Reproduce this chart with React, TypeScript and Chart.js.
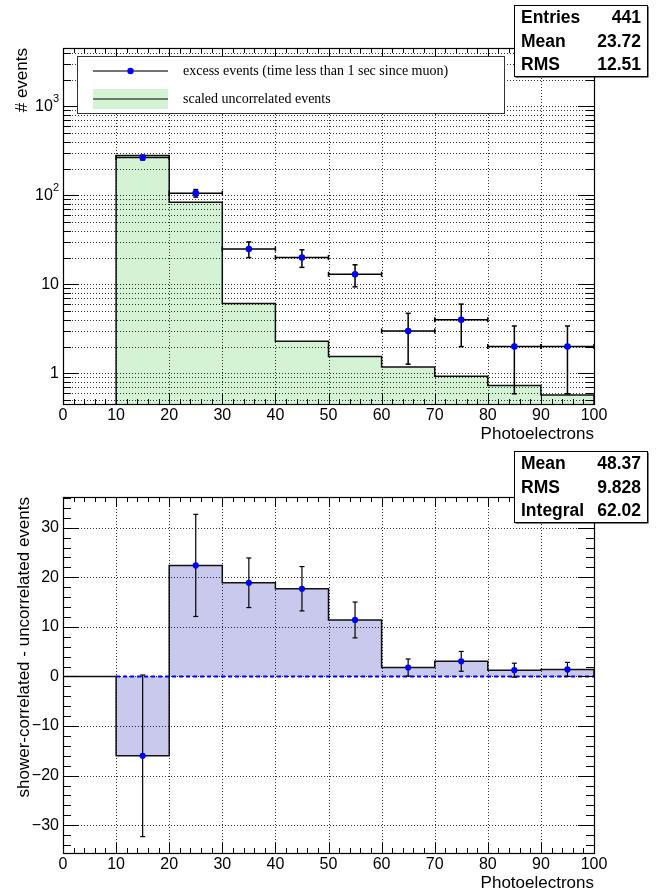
import React, { useEffect, useRef } from "react";
import { Chart, registerables } from "chart.js";

Chart.register(...registerables);

// Photoelectron binning: 10 PE wide bins from 0 to 100
const binEdges = [0, 10, 20, 30, 40, 50, 60, 70, 80, 90, 100];
const binCenters = [15, 25, 35, 45, 55, 65, 75, 85, 95];

// Upper panel: excess events (time < 1 s since muon) with statistical errors
const excessCounts = [266, 106, 25, 20, 13, 3, 4, 2, 2];
const excessErrors = [16.3, 10.3, 5.0, 4.47, 3.61, 1.73, 2.0, 1.41, 1.41];
// Upper panel: scaled uncorrelated events, bins 10..100
const uncorrelatedScaled = [281, 84, 6.1, 2.3, 1.55, 1.18, 0.93, 0.73, 0.57];

// Lower panel: shower-correlated minus uncorrelated, bins 0..100
const differenceValues = [0, -16.0, 22.4, 18.9, 17.7, 11.4, 1.8, 3.05, 1.27, 1.43];
const differenceErrors = [16.3, 10.3, 5.0, 4.47, 3.61, 1.73, 2.0, 1.41, 1.41];

// Axis ranges and tick labels
const TOP_Y_MIN = 0.453;
const TOP_Y_MAX = 4530;
const BOTTOM_Y_MIN = -35.6;
const BOTTOM_Y_MAX = 36.2;
const xTickValues = [0, 10, 20, 30, 40, 50, 60, 70, 80, 90, 100];
const xTickLabels = ["0", "10", "20", "30", "40", "50", "60", "70", "80", "90", "100"];
const logTickValues = [1, 10, 100, 1000];
const logTickBases = ["1", "10", "10", "10"];
const logTickExponents = ["", "", "2", "3"];
const linTickValues = [-30, -20, -10, 0, 10, 20, 30];
const linTickLabels = ["\u221230", "\u221220", "\u221210", "0", "10", "20", "30"];

// Statistics boxes
const topStatNames = ["Entries", "Mean", "RMS"];
const topStatValues = ["441", "23.72", "12.51"];
const bottomStatNames = ["Mean", "RMS", "Integral"];
const bottomStatValues = ["48.37", "9.828", "62.02"];

const legendLabels = [
  "excess events (time less than 1 sec since muon)",
  "scaled uncorrelated events",
];

const xTitle = "Photoelectrons";
const topYTitle = "# events";
const bottomYTitle = "shower-correlated - uncorrelated events";

const GREEN_FILL = "rgb(212,243,212)";
const LAVENDER_FILL = "rgb(200,201,237)";
const MARKER_BLUE = "#0000ff";
const SANS = '"Liberation Sans", Arial, Helvetica, sans-serif';
const SERIF = '"Liberation Serif", "Times New Roman", serif';

const W = 665;
const H = 446;

type Pt = { x: number; y: number };

// Outline points of a histogram for a stepped ('before') line
function stepPoints(edges: number[], values: number[], base: number): Pt[] {
  const pts: Pt[] = [{ x: edges[0], y: base }];
  values.forEach((v, i) => pts.push({ x: edges[i], y: v }));
  pts.push({ x: edges[edges.length - 1], y: values[values.length - 1] });
  pts.push({ x: edges[edges.length - 1], y: base });
  return pts;
}

interface PanelSpec {
  id: string;
  logY: boolean;
  histIndex: number;
  pointsIndex: number;
  errY: number[];
  errXHalf: number;
  errWidth: number;
  yTitle: string;
  yTitleX: number;
  statNames: string[];
  statValues: string[];
  legend: boolean;
}

function line(ctx: CanvasRenderingContext2D, x1: number, y1: number, x2: number, y2: number) {
  ctx.beginPath();
  ctx.moveTo(x1, y1);
  ctx.lineTo(x2, y2);
  ctx.stroke();
}

function yTickList(spec: PanelSpec, min: number, max: number) {
  const out: { v: number; major: boolean }[] = [];
  if (spec.logY) {
    for (let d = 0.1; d <= 10000; d *= 10) {
      for (let k = 1; k <= 9; k++) {
        const v = Math.round(k * d * 1000) / 1000;
        if (v >= min && v <= max) out.push({ v, major: k === 1 });
      }
    }
  } else {
    for (let v = -40; v <= 40; v += 2) {
      if (v >= min && v <= max) out.push({ v, major: v % 10 === 0 });
    }
  }
  return out;
}

function drawGrid(chart: Chart, spec: PanelSpec) {
  const { ctx, chartArea: a } = chart;
  const xs = chart.scales.x;
  const ys = chart.scales.y;
  ctx.save();
  ctx.strokeStyle = "rgba(0,0,0,0.8)";
  ctx.lineWidth = 1;
  ctx.setLineDash([1, 2]);
  xTickValues.forEach((v) => {
    if (v <= xs.min || v >= xs.max) return;
    const px = Math.round(xs.getPixelForValue(v)) + 0.5;
    line(ctx, px, a.top, px, a.bottom);
  });
  const yVals = spec.logY
    ? yTickList(spec, ys.min, ys.max).map((t) => t.v)
    : linTickValues;
  yVals.forEach((v) => {
    const py = Math.round(ys.getPixelForValue(v)) + 0.5;
    if (py <= a.top + 1 || py >= a.bottom - 1) return;
    line(ctx, a.left, py, a.right, py);
  });
  ctx.restore();
}

function drawErrors(chart: Chart, spec: PanelSpec) {
  const { ctx, chartArea: a } = chart;
  const xs = chart.scales.x;
  const ys = chart.scales.y;
  const pts = chart.data.datasets[spec.pointsIndex].data as Pt[];
  const cap = 2.5;
  ctx.save();
  ctx.beginPath();
  ctx.rect(a.left, a.top, a.right - a.left, a.bottom - a.top);
  ctx.clip();
  ctx.strokeStyle = "#000";
  ctx.lineWidth = spec.errWidth;
  pts.forEach((p, i) => {
    const e = spec.errY[i];
    const px = xs.getPixelForValue(p.x);
    const py = ys.getPixelForValue(p.y);
    const pTop = ys.getPixelForValue(p.y + e);
    const low = p.y - e;
    const lowVisible = !(spec.logY && low <= ys.min);
    const pBot = lowVisible ? ys.getPixelForValue(low) : a.bottom;
    line(ctx, px, pTop, px, pBot);
    line(ctx, px - cap, pTop, px + cap, pTop);
    if (lowVisible) line(ctx, px - cap, pBot, px + cap, pBot);
    if (spec.errXHalf > 0) {
      const xl = xs.getPixelForValue(p.x - spec.errXHalf);
      const xr = xs.getPixelForValue(p.x + spec.errXHalf);
      line(ctx, xl, py, xr, py);
      line(ctx, xl, py - cap, xl, py + cap);
      line(ctx, xr, py - cap, xr, py + cap);
    }
  });
  ctx.restore();
}

function drawAxes(chart: Chart, spec: PanelSpec) {
  const { ctx, chartArea: a } = chart;
  const xs = chart.scales.x;
  const ys = chart.scales.y;
  ctx.save();
  ctx.strokeStyle = "#000";
  ctx.lineWidth = 1;

  // x ticks on bottom and top edges
  for (let v = 0; v <= 100; v += 2) {
    const major = v % 10 === 0;
    const len = major ? 10 : 5;
    const px = Math.round(xs.getPixelForValue(v)) + 0.5;
    line(ctx, px, a.bottom, px, a.bottom - len);
    line(ctx, px, a.top, px, a.top + len);
  }
  // y ticks on left and right edges
  yTickList(spec, ys.min, ys.max).forEach((t) => {
    const len = t.major ? 16 : 8;
    const py = Math.round(ys.getPixelForValue(t.v)) + 0.5;
    line(ctx, a.left, py, a.left + len, py);
    line(ctx, a.right, py, a.right - len, py);
  });

  // frame
  ctx.lineWidth = 1.2;
  ctx.strokeRect(a.left + 0.5, a.top + 0.5, a.right - a.left, a.bottom - a.top);

  // x tick labels and title
  ctx.fillStyle = "#000";
  ctx.font = `16px ${SANS}`;
  ctx.textAlign = "center";
  ctx.textBaseline = "middle";
  xTickValues.forEach((v, i) => {
    ctx.fillText(xTickLabels[i], xs.getPixelForValue(v), a.bottom + 12);
  });
  ctx.font = `17px ${SANS}`;
  ctx.textAlign = "right";
  ctx.fillText(xTitle, a.right, a.bottom + 30);

  // y tick labels
  const labelRight = a.left - 4;
  if (spec.logY) {
    logTickValues.forEach((v, i) => {
      const py = ys.getPixelForValue(v);
      const exp = logTickExponents[i];
      ctx.font = `11px ${SANS}`;
      const expW = exp ? ctx.measureText(exp).width : 0;
      ctx.font = `16px ${SANS}`;
      ctx.textAlign = "right";
      ctx.fillText(logTickBases[i], labelRight - expW, py);
      if (exp) {
        ctx.font = `11px ${SANS}`;
        ctx.textAlign = "left";
        ctx.fillText(exp, labelRight - expW, py - 7);
      }
    });
  } else {
    ctx.font = `16px ${SANS}`;
    ctx.textAlign = "right";
    linTickValues.forEach((v, i) => {
      ctx.fillText(linTickLabels[i], labelRight, ys.getPixelForValue(v));
    });
  }

  // y title, rotated, ending at the top of the frame
  ctx.save();
  ctx.translate(spec.yTitleX, a.top);
  ctx.rotate(-Math.PI / 2);
  ctx.font = `17px ${SANS}`;
  ctx.textAlign = "right";
  ctx.textBaseline = "middle";
  ctx.fillText(spec.yTitle, 0, 0);
  ctx.restore();

  ctx.restore();
}

function drawLegend(chart: Chart) {
  const { ctx } = chart;
  const L = 77, T = 56, R = 504, B = 113;
  ctx.save();
  ctx.fillStyle = "#fff";
  ctx.fillRect(L, T, R - L, B - T);
  ctx.strokeStyle = "#333";
  ctx.lineWidth = 1;
  ctx.strokeRect(L + 0.5, T + 0.5, R - L, B - T);

  const symL = 93, symR = 168;
  const y1 = 71, y2 = 99;
  // entry 1: marker with error line
  ctx.strokeStyle = "#444";
  ctx.lineWidth = 1.5;
  line(ctx, symL, y1, symR, y1);
  ctx.fillStyle = MARKER_BLUE;
  ctx.beginPath();
  ctx.arc((symL + symR) / 2, y1, 3.2, 0, Math.PI * 2);
  ctx.fill();
  // entry 2: filled box with outline
  ctx.fillStyle = GREEN_FILL;
  ctx.fillRect(symL, y2 - 10, symR - symL, 20);
  ctx.strokeStyle = "#000";
  ctx.lineWidth = 1.2;
  line(ctx, symL, y2, symR, y2);

  ctx.fillStyle = "#000";
  ctx.font = `14px ${SERIF}`;
  ctx.textAlign = "left";
  ctx.textBaseline = "middle";
  ctx.fillText(legendLabels[0], 183, y1);
  ctx.fillText(legendLabels[1], 183, y2);
  ctx.restore();
}

function drawStats(chart: Chart, names: string[], values: string[]) {
  const { ctx } = chart;
  const L = 514, T = 5, R = 647, B = 76;
  ctx.save();
  ctx.fillStyle = "#000";
  ctx.fillRect(L + 1.5, T + 1.5, R - L, B - T);
  ctx.fillStyle = "#fff";
  ctx.fillRect(L, T, R - L, B - T);
  ctx.strokeStyle = "#000";
  ctx.lineWidth = 1;
  ctx.strokeRect(L + 0.5, T + 0.5, R - L, B - T);
  ctx.fillStyle = "#000";
  ctx.font = `bold 17.5px ${SANS}`;
  ctx.textBaseline = "middle";
  names.forEach((n, i) => {
    const y = T + 13.5 + i * 23.4;
    ctx.textAlign = "left";
    ctx.fillText(n, L + 7, y);
    ctx.textAlign = "right";
    ctx.fillText(values[i], R - 6, y);
  });
  ctx.restore();
}

function makePanelPlugin(spec: PanelSpec) {
  return {
    id: spec.id,
    afterDatasetDraw(chart: Chart, args: { index: number }) {
      if (args.index === spec.histIndex) drawGrid(chart, spec);
    },
    beforeDatasetDraw(chart: Chart, args: { index: number }) {
      if (args.index === spec.pointsIndex) drawErrors(chart, spec);
    },
    afterDraw(chart: Chart) {
      drawAxes(chart, spec);
      if (spec.legend) drawLegend(chart);
      drawStats(chart, spec.statNames, spec.statValues);
    },
  };
}

function baseOptions(padTop: number, padBottom: number, yScale: any) {
  return {
    animation: false as const,
    responsive: false,
    devicePixelRatio: 1,
    events: [],
    layout: { padding: { left: 63, right: W - 594, top: padTop, bottom: padBottom } },
    scales: {
      x: { type: "linear" as const, min: 0, max: 100, display: false },
      y: { ...yScale, display: false },
    },
    plugins: { legend: { display: false }, tooltip: { enabled: false } },
  };
}

function TopPanel() {
  const ref = useRef<HTMLCanvasElement>(null);
  useEffect(() => {
    if (!ref.current) return;
    const spec: PanelSpec = {
      id: "topPanel",
      logY: true,
      histIndex: 0,
      pointsIndex: 1,
      errY: excessErrors,
      errXHalf: 5,
      errWidth: 1.5,
      yTitle: topYTitle,
      yTitleX: 22,
      statNames: topStatNames,
      statValues: topStatValues,
      legend: true,
    };
    const chart = new Chart(ref.current, {
      type: "scatter",
      data: {
        datasets: [
          {
            label: legendLabels[1],
            data: stepPoints(binEdges.slice(1), uncorrelatedScaled, TOP_Y_MIN),
            showLine: true,
            stepped: "before",
            fill: "start",
            backgroundColor: GREEN_FILL,
            borderColor: "#111",
            borderWidth: 1.5,
            pointRadius: 0,
            order: 3,
          },
          {
            label: legendLabels[0],
            data: binCenters.map((x, i) => ({ x, y: excessCounts[i] })),
            showLine: false,
            pointRadius: 3.3,
            pointBorderWidth: 0,
            backgroundColor: MARKER_BLUE,
            borderColor: MARKER_BLUE,
            order: 1,
          },
        ],
      },
      options: baseOptions(48, H - 404, { type: "logarithmic", min: TOP_Y_MIN, max: TOP_Y_MAX }) as any,
      plugins: [makePanelPlugin(spec) as any],
    });
    return () => chart.destroy();
  }, []);
  return <canvas ref={ref} width={W} height={H} style={{ display: "block", width: W, height: H }} />;
}

function BottomPanel() {
  const ref = useRef<HTMLCanvasElement>(null);
  useEffect(() => {
    if (!ref.current) return;
    const spec: PanelSpec = {
      id: "bottomPanel",
      logY: false,
      histIndex: 0,
      pointsIndex: 2,
      errY: differenceErrors,
      errXHalf: 0,
      errWidth: 1.2,
      yTitle: bottomYTitle,
      yTitleX: 24,
      statNames: bottomStatNames,
      statValues: bottomStatValues,
      legend: false,
    };
    const chart = new Chart(ref.current, {
      type: "scatter",
      data: {
        datasets: [
          {
            label: "difference",
            data: stepPoints(binEdges, differenceValues, 0),
            showLine: true,
            stepped: "before",
            fill: "origin",
            backgroundColor: LAVENDER_FILL,
            borderColor: "#111",
            borderWidth: 1.5,
            pointRadius: 0,
            order: 3,
          },
          {
            label: "zero",
            data: [
              { x: binEdges[1], y: 0 },
              { x: binEdges[binEdges.length - 1], y: 0 },
            ],
            showLine: true,
            borderColor: MARKER_BLUE,
            borderWidth: 2,
            borderDash: [4, 3],
            pointRadius: 0,
            order: 2,
          },
          {
            label: "difference points",
            data: binCenters.map((x, i) => ({ x, y: differenceValues[i + 1] })),
            showLine: false,
            pointRadius: 3.1,
            pointBorderWidth: 0,
            backgroundColor: MARKER_BLUE,
            borderColor: MARKER_BLUE,
            order: 1,
          },
        ],
      },
      options: baseOptions(51, H - 407, { type: "linear", min: BOTTOM_Y_MIN, max: BOTTOM_Y_MAX }) as any,
      plugins: [makePanelPlugin(spec) as any],
    });
    return () => chart.destroy();
  }, []);
  return <canvas ref={ref} width={W} height={H} style={{ display: "block", width: W, height: H }} />;
}

export default function App() {
  return (
    <div style={{ position: "absolute", left: 0, top: 0, width: W, height: 2 * H, background: "#fff" }}>
      <TopPanel />
      <BottomPanel />
    </div>
  );
}
